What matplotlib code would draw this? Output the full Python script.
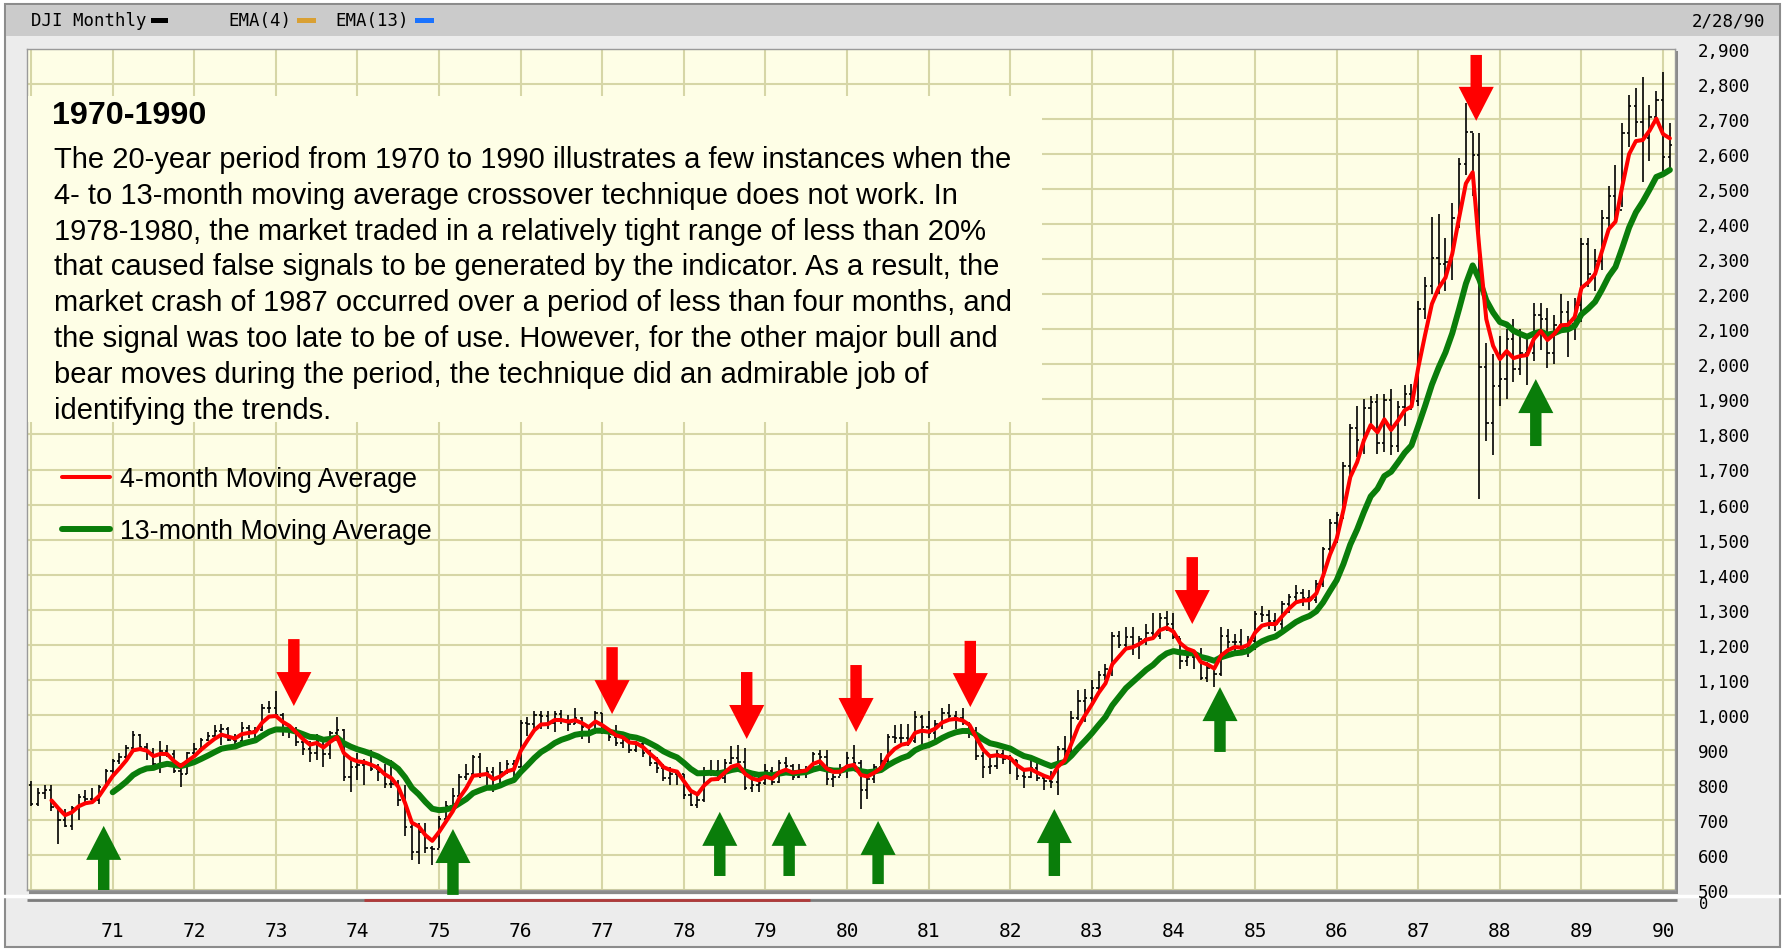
import numpy as np
import pandas as pd
import matplotlib
matplotlib.use('Agg')
import matplotlib.pyplot as plt
from matplotlib.patches import Rectangle, FancyArrow

W, H = 1785, 953
DPI = 100

# DJI monthly bars, Jan 1970 .. Feb 1990
closes = [
    744.06, 777.59, 785.57, 736.07, 700.44, 683.53, 734.12, 764.58, 760.68, 755.61, 794.09, 838.92,
    868.50, 878.83, 904.37, 941.75, 907.81, 891.14, 858.43, 898.07, 887.19, 839.00, 831.34, 890.20,
    902.17, 928.13, 940.70, 954.17, 960.72, 929.03, 924.74, 963.73, 953.27, 955.52, 1018.21, 1020.02,
    999.02, 955.07, 951.01, 921.43, 901.41, 891.71, 926.40, 887.57, 947.10, 956.58, 822.25, 850.86,
    855.55, 860.53, 846.68, 836.75, 802.17, 802.41, 757.43, 678.58, 607.87, 665.52, 618.66, 616.24,
    703.69, 739.05, 768.15, 821.34, 832.29, 878.99, 831.51, 835.34, 793.88, 836.04, 860.67, 852.41,
    975.28, 972.61, 999.45, 996.85, 975.23, 1002.78, 984.64, 973.74, 990.19, 964.93, 947.22, 1004.65,
    954.37, 936.42, 919.13, 926.90, 898.66, 916.30, 890.07, 861.49, 847.11, 818.35, 829.70, 831.17,
    769.92, 742.12, 757.36, 837.32, 840.61, 818.95, 862.27, 876.82, 865.82, 792.45, 799.03, 805.01,
    839.22, 808.82, 862.18, 854.90, 822.33, 841.98, 846.42, 887.63, 878.58, 815.70, 822.35, 838.74,
    875.85, 863.14, 785.75, 817.06, 850.85, 867.92, 935.32, 932.59, 932.42, 924.49, 993.34, 963.99,
    947.27, 974.58, 1003.87, 997.75, 991.75, 976.88, 952.34, 881.47, 849.98, 852.55, 888.98, 875.00,
    871.10, 824.39, 822.77, 848.36, 819.54, 811.93, 808.60, 901.31, 896.25, 991.72, 1039.28, 1046.54,
    1075.70, 1112.62, 1130.03, 1226.20, 1199.98, 1221.96, 1199.22, 1216.16, 1233.13, 1225.20, 1276.02, 1258.64,
    1220.58, 1154.63, 1164.89, 1170.75, 1104.85, 1132.40, 1115.28, 1224.38, 1206.71, 1207.38, 1188.94, 1211.57,
    1286.77, 1284.01, 1266.78, 1258.06, 1315.41, 1335.46, 1347.45, 1334.01, 1328.63, 1374.31, 1472.13, 1546.67,
    1570.99, 1709.06, 1818.61, 1783.98, 1876.71, 1892.72, 1775.31, 1898.34, 1767.58, 1877.81, 1914.23, 1895.95,
    2158.04, 2223.99, 2304.69, 2286.36, 2291.57, 2418.53, 2572.07, 2662.95, 2596.28, 1993.53, 1833.55, 1938.83,
    1958.22, 2071.62, 1988.06, 2032.33, 2031.12, 2141.71, 2128.73, 2031.65, 2112.91, 2148.65, 2114.51, 2168.57,
    2342.32, 2258.39, 2293.62, 2418.80, 2480.15, 2440.06, 2660.66, 2737.27, 2692.82, 2645.08, 2706.27, 2753.20,
    2590.54, 2627.25,
]
highs = [
    811, 790, 800, 800, 740, 730, 740, 775, 785, 790, 800, 845,
    875, 890, 915, 955, 945, 920, 905, 925, 915, 900, 850, 895,
    920, 935, 950, 970, 975, 965, 945, 980, 970, 965, 1030, 1040,
    1067, 1005, 975, 965, 945, 925, 945, 925, 955, 995, 960, 870,
    890, 875, 900, 860, 860, 870, 815, 800, 690, 690, 690, 625,
    710, 755, 790, 830, 860, 885, 890, 850, 850, 865, 870, 870,
    985, 995, 1010, 1010, 1010, 1010, 1015, 1000, 1020, 995, 965, 1010,
    1005, 960, 970, 945, 945, 925, 925, 900, 880, 860, 850, 840,
    830, 785, 775, 850, 870, 870, 875, 910, 915, 905, 830, 830,
    860, 850, 870, 880, 860, 860, 855, 895, 900, 900, 830, 860,
    895, 915, 870, 830, 860, 890, 945, 970, 975, 975, 1010, 1000,
    1010, 985, 1020, 1030, 1010, 1020, 980, 965, 895, 880, 900, 900,
    885, 870, 840, 875, 875, 830, 840, 910, 940, 1010, 1070, 1075,
    1100, 1125, 1145, 1235, 1240, 1250, 1250, 1225, 1260, 1290, 1290, 1295,
    1290, 1220, 1185, 1185, 1190, 1150, 1140, 1250, 1245, 1230, 1245, 1225,
    1295, 1310, 1300, 1290, 1325, 1345, 1370, 1360, 1355, 1385, 1480, 1560,
    1580, 1720, 1830, 1880, 1900, 1910, 1915, 1915, 1930, 1895, 1940, 1945,
    2180, 2250, 2420, 2430, 2360, 2460, 2590, 2747, 2660, 2660, 2060, 2030,
    2080, 2100, 2130, 2100, 2080, 2175, 2175, 2160, 2140, 2200, 2180, 2190,
    2360, 2360, 2330, 2440, 2510, 2570, 2690, 2770, 2790, 2820, 2740, 2780,
    2834, 2690,
]
lows = [
    740, 740, 760, 725, 630, 680, 670, 700, 745, 745, 745, 790,
    830, 860, 870, 900, 900, 870, 850, 835, 880, 835, 795, 830,
    880, 895, 925, 935, 915, 925, 905, 920, 935, 925, 955, 1005,
    990, 940, 935, 910, 885, 865, 870, 850, 875, 935, 810, 780,
    815, 800, 840, 810, 790, 790, 740, 655, 585, 575, 605, 570,
    620, 695, 735, 750, 815, 820, 820, 790, 780, 795, 830, 815,
    850, 940, 960, 960, 960, 950, 975, 955, 975, 930, 920, 945,
    945, 925, 910, 905, 890, 895, 880, 855, 835, 810, 800, 800,
    760, 740, 735, 750, 825, 810, 805, 860, 850, 785, 780, 780,
    800, 800, 805, 845, 815, 820, 820, 840, 855, 800, 795, 825,
    820, 850, 730, 760, 805, 845, 860, 920, 915, 910, 920, 900,
    935, 920, 960, 985, 960, 970, 935, 870, 820, 830, 845, 860,
    830, 815, 790, 820, 810, 785, 790, 770, 880, 885, 985, 980,
    1030, 1060, 1100, 1110, 1190, 1185, 1170, 1160, 1200, 1215, 1215, 1240,
    1215, 1130, 1140, 1130, 1100, 1095, 1080, 1110, 1190, 1175, 1175, 1165,
    1185, 1265, 1245, 1240, 1240, 1290, 1320, 1310, 1300, 1320, 1365, 1450,
    1490, 1560, 1680, 1735, 1745, 1815, 1745, 1750, 1740, 1750, 1825, 1870,
    1880, 2130, 2200, 2200, 2210, 2240, 2390, 2540, 2480, 1616, 1780, 1740,
    1880, 1900, 1950, 1970, 1940, 2010, 2040, 1990, 2000, 2090, 2020, 2070,
    2120, 2220, 2210, 2270, 2380, 2400, 2450, 2620, 2650, 2520, 2580, 2690,
    2540, 2560,
]
FIRST_OPEN = 800.36

year_ticks = list(range(1970, 1991))
year_labels = [''] + ['%02d' % (y % 100) for y in range(1971, 1991)]
price_ticks = list(range(500, 3000, 100))

# signal arrows (x in years, values in index points)
sell_x = [1973.22, 1977.12, 1978.77, 1980.11, 1981.51, 1984.23, 1987.71]
sell_top = [1216, 1193, 1122, 1142, 1211, 1450, 2883]
sell_tip = [1025, 1002, 931, 951, 1022, 1259, 2695]
buy_x = [1970.89, 1975.17, 1978.44, 1979.29, 1980.38, 1982.54, 1984.57, 1988.44]
buy_bottom = [500, 486, 540, 540, 517, 540, 894, 1767]
buy_tip = [683, 674, 723, 723, 697, 731, 1079, 1958]

TEXT_LINES = [
    "The 20-year period from 1970 to 1990 illustrates a few instances when the",
    "4- to 13-month moving average crossover technique does not work. In",
    "1978-1980, the market traded in a relatively tight range of less than 20%",
    "that caused false signals to be generated by the indicator. As a result, the",
    "market crash of 1987 occurred over a period of less than four months, and",
    "the signal was too late to be of use. However, for the other major bull and",
    "bear moves during the period, the technique did an admirable job of",
    "identifying the trends.",
]

RED = '#ff0000'
GREEN = '#0a7d0a'
PLOT_BG = '#fefee6'
GRID = '#d6d6a6'
MONO = 'DejaVu Sans Mono'
SANS = ['Liberation Sans', 'Arial', 'DejaVu Sans']


def fpos(x0, y0, x1, y1):
    # pixel box (top-left origin) -> figure fraction rect
    return [x0 / W, 1 - y1 / H, (x1 - x0) / W, (y1 - y0) / H]


n = len(closes)
t = 1970 + np.arange(n) / 12.0
close_s = pd.Series(closes)
opens = np.r_[FIRST_OPEN, closes[:-1]]
ema4 = close_s.ewm(span=4, adjust=False, min_periods=4).mean()
ema13 = close_s.ewm(span=13, adjust=False, min_periods=13).mean()

fig = plt.figure(figsize=(W / DPI, H / DPI), dpi=DPI, facecolor='white')

# background frame (pixel coordinates)
bg = fig.add_axes([0, 0, 1, 1], zorder=0)
bg.set_xlim(0, W)
bg.set_ylim(H, 0)
bg.axis('off')
bg.add_patch(Rectangle((5, 5), 1775, 943, facecolor='#ececec', edgecolor='#8c8c8c', lw=1.5))
bg.add_patch(Rectangle((6, 6), 1773, 31, facecolor='#cbcbcb', edgecolor='none'))
bg.add_patch(Rectangle((29, 52), 1649, 843, facecolor='#8a8a8a', edgecolor='none'))
bg.plot([0, W], [897, 897], color='white', lw=2.5, solid_capstyle='butt')
bg.plot([27, 1677], [901, 901], color='#7c7c7c', lw=2, solid_capstyle='butt')
bg.plot([364, 810], [901, 901], color='#b03a3a', lw=2, solid_capstyle='butt')
bg.text(31, 21, 'DJI Monthly', family=MONO, fontsize=12.5, va='center', ha='left')
bg.add_patch(Rectangle((151, 19), 17, 5, facecolor='black'))
bg.text(228, 21, 'EMA(4)', family=MONO, fontsize=12.5, va='center', ha='left')
bg.add_patch(Rectangle((297, 19), 19, 5, facecolor='#d9a033'))
bg.text(335, 21, 'EMA(13)', family=MONO, fontsize=12.5, va='center', ha='left')
bg.add_patch(Rectangle((415, 19), 19, 5, facecolor='#1a73ff'))
bg.text(1765, 22, '2/28/90', family=MONO, fontsize=12.5, va='center', ha='right')
bg.text(1699, 905, '0', family=MONO, fontsize=11, va='center', ha='left')

# main price panel
ax = fig.add_axes(fpos(27, 50, 1675, 891), zorder=1)
ax.set_facecolor(PLOT_BG)
ax.set_xlim(1969.95, 1990.146)
ax.set_ylim(500, 2900)
ax.set_xticks(year_ticks)
ax.set_xticklabels(year_labels, family=MONO, fontsize=14)
ax.set_yticks(price_ticks)
ax.set_yticklabels(['{:,}'.format(v) for v in price_ticks], family=MONO, fontsize=12.5)
ax.yaxis.tick_right()
ax.tick_params(axis='x', length=0, pad=22)
ax.tick_params(axis='y', length=0, pad=16.5)
for lab in ax.get_yticklabels():
    lab.set_horizontalalignment('left')
ax.grid(True, color=GRID, lw=1.5)
ax.set_axisbelow(True)
for sp in ax.spines.values():
    sp.set_color('#9a9a9a')
    sp.set_linewidth(1)

tk = 0.028
ax.vlines(t, lows, highs, color='black', lw=1.2, zorder=2)
ax.hlines(opens, t - tk, t, color='black', lw=1.2, zorder=2)
ax.hlines(closes, t, t + tk, color='black', lw=1.2, zorder=2)

ax.plot(t, ema4, color='#d9a033', lw=1, ls=':', zorder=3)
ax.plot(t, ema13, color='#1a73ff', lw=1.2, zorder=3)
l13, = ax.plot(t, ema13, color=GREEN, lw=4.3, solid_capstyle='round', zorder=4,
               label='13-month Moving Average')
l4, = ax.plot(t, ema4, color=RED, lw=2.9, solid_capstyle='round', zorder=5,
              label='4-month Moving Average')

for x, top, tip in zip(sell_x, sell_top, sell_tip):
    ax.add_patch(FancyArrow(x, top, 0, tip - top, width=0.14, head_width=0.43,
                            head_length=97, length_includes_head=True,
                            color=RED, lw=0, zorder=6, clip_on=False))
for x, bot, tip in zip(buy_x, buy_bottom, buy_tip):
    ax.add_patch(FancyArrow(x, bot, 0, tip - bot, width=0.14, head_width=0.43,
                            head_length=97, length_includes_head=True,
                            color=GREEN, lw=0, zorder=6, clip_on=False))

# overlay: annotation text and legend
ov = fig.add_axes([0, 0, 1, 1], zorder=2)
ov.set_xlim(0, W)
ov.set_ylim(H, 0)
ov.axis('off')
ov.patch.set_alpha(0)
ov.add_patch(Rectangle((28, 97), 1014, 326, facecolor=PLOT_BG, edgecolor='none'))
ov.text(52, 116, '1970-1990', family=SANS, fontsize=23.2, fontweight='bold', va='center')
for i, line in enumerate(TEXT_LINES):
    ov.text(54, 159.5 + i * 36, line, family=SANS, fontsize=21, va='center')

ax.legend(handles=[l4, l13], loc='upper left', bbox_to_anchor=(62, 467),
          bbox_transform=ov.transData, frameon=False, borderpad=0, borderaxespad=0,
          handlelength=1.8, handletextpad=0.35, labelspacing=0.98,
          prop={'family': SANS, 'size': 19.3})

fig.savefig('out.png', dpi=DPI, facecolor=fig.get_facecolor())
